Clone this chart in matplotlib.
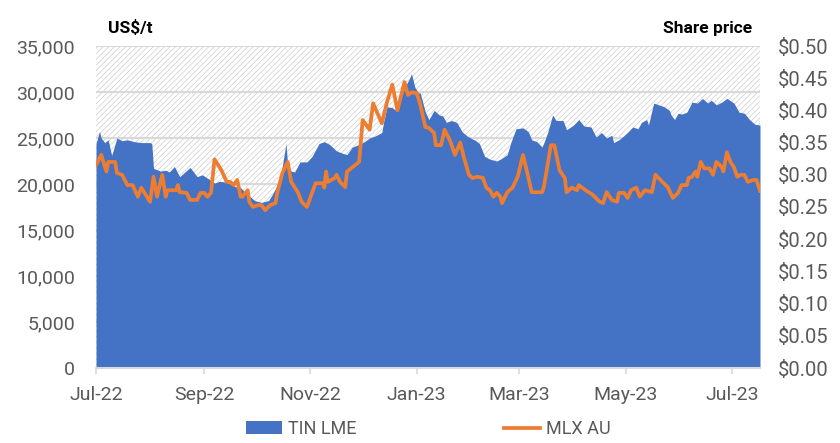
import pandas as pd
import matplotlib
matplotlib.use('Agg')
import matplotlib.pyplot as plt
import matplotlib.dates as mdates
from matplotlib.patches import Rectangle
from matplotlib.lines import Line2D
from matplotlib.ticker import FuncFormatter

plt.rcParams['font.family'] = ['Roboto', 'DejaVu Sans']

start = pd.Timestamp('2022-07-01')

# TIN LME (US$/t), days after 1 Jul 2022
tin_days = [0, 2, 3, 5, 7, 9, 12, 15, 18, 22, 26, 31, 32, 33, 37, 40, 42, 45, 48, 51,
            54, 58, 61, 65, 68, 71, 74, 77, 80, 83, 85, 88, 91, 95, 99, 101, 103, 106, 107, 109,
            110, 112, 114, 117, 121, 124, 126, 128, 131, 134, 138, 142, 144, 147, 151, 154, 157, 160, 164, 165,
            167, 170, 172, 174, 176, 178, 180, 181, 183, 185, 186, 189, 191, 194, 197, 199, 201, 204, 207, 210,
            213, 215, 218, 220, 223, 226, 230, 233, 236, 238, 241, 245, 248, 250, 253, 256, 259, 262, 264, 268,
            270, 274, 277, 280, 284, 287, 290, 293, 296, 297, 300, 302, 305, 308, 311, 313, 316, 317, 320, 323,
            326, 329, 330, 332, 334, 336, 339, 342, 345, 348, 351, 353, 356, 359, 362, 366, 369, 372, 375, 378, 381]
tin_lme = [24400, 25700, 25000, 24500, 24800, 23100, 25000, 24700, 24800, 24600, 24500, 24500, 24400, 21700, 21400, 21500, 21300, 21900, 20800, 21300,
           21800, 20800, 21000, 20500, 20100, 20300, 20200, 20000, 19700, 19600, 19200, 18700, 18200, 18000, 18200, 18800, 19500, 21000, 22000, 24400,
           22000, 21400, 21300, 22400, 22400, 23000, 23700, 24400, 24600, 24300, 23600, 23300, 23200, 24000, 24300, 24600, 25000, 25200, 25600, 26700,
           28400, 28300, 28000, 28800, 29900, 30800, 31500, 32000, 30500, 29900, 29900, 27800, 27000, 28000, 27500, 27400, 26700, 26900, 26700, 25700,
           25200, 25000, 24700, 24400, 23000, 22700, 22500, 22800, 23200, 24500, 26000, 26100, 25700, 24800, 24600, 24000, 25500, 27500, 26900, 26900,
           25900, 26400, 27000, 26300, 26200, 25100, 25600, 25000, 25300, 24500, 24800, 25100, 25600, 26200, 26000, 26700, 27000, 26400, 28800, 28600,
           28400, 28000, 27500, 27000, 27700, 27600, 27800, 28900, 28800, 29300, 28800, 29100, 28600, 28900, 29300, 28800, 27800, 27700, 27000, 26500, 26400]

# MLX AU share price (A$), days after 1 Jul 2022
mlx_days = [0, 3, 6, 7, 11, 12, 15, 18, 21, 24, 26, 31, 33, 35, 38, 40, 41, 46, 47, 48,
            52, 54, 58, 60, 62, 64, 66, 68, 72, 75, 77, 79, 81, 83, 84, 87, 88, 90, 93, 95,
            97, 100, 103, 104, 107, 110, 112, 116, 118, 121, 124, 126, 130, 131, 132, 133, 137, 138, 140, 143,
            144, 151, 153, 157, 159, 164, 167, 170, 173, 177, 179, 181, 184, 186, 189, 191, 194, 195, 198, 200,
            203, 206, 209, 211, 214, 216, 219, 222, 224, 226, 228, 230, 232, 233, 236, 239, 242, 245, 248, 250,
            256, 257, 261, 263, 266, 269, 270, 273, 276, 277, 281, 285, 289, 291, 293, 296, 299, 300, 303, 305,
            307, 310, 312, 315, 319, 321, 325, 328, 331, 334, 336, 339, 340, 342, 344, 345, 347, 349, 352, 354,
            356, 359, 360, 362, 364, 366, 368, 370, 372, 374, 377, 379, 381]
mlx_au = [0.315, 0.331, 0.305, 0.320, 0.320, 0.303, 0.300, 0.284, 0.284, 0.266, 0.280, 0.258, 0.297, 0.266, 0.300, 0.266, 0.276, 0.276, 0.284, 0.273,
          0.272, 0.261, 0.261, 0.272, 0.272, 0.266, 0.272, 0.324, 0.307, 0.289, 0.289, 0.284, 0.292, 0.266, 0.266, 0.276, 0.258, 0.250, 0.253, 0.253,
          0.245, 0.253, 0.256, 0.272, 0.303, 0.320, 0.289, 0.272, 0.258, 0.250, 0.272, 0.287, 0.287, 0.280, 0.305, 0.289, 0.295, 0.300, 0.289, 0.281,
          0.305, 0.320, 0.385, 0.370, 0.411, 0.380, 0.413, 0.440, 0.400, 0.444, 0.424, 0.428, 0.427, 0.410, 0.374, 0.373, 0.365, 0.346, 0.346, 0.370,
          0.354, 0.331, 0.350, 0.328, 0.300, 0.295, 0.297, 0.295, 0.280, 0.276, 0.266, 0.272, 0.266, 0.256, 0.273, 0.280, 0.297, 0.331, 0.297, 0.273,
          0.273, 0.281, 0.346, 0.346, 0.307, 0.295, 0.273, 0.280, 0.276, 0.284, 0.276, 0.269, 0.258, 0.256, 0.273, 0.261, 0.258, 0.272, 0.272, 0.264,
          0.276, 0.280, 0.266, 0.276, 0.273, 0.300, 0.289, 0.281, 0.264, 0.272, 0.284, 0.284, 0.295, 0.297, 0.305, 0.297, 0.320, 0.310, 0.310, 0.300,
          0.320, 0.312, 0.305, 0.335, 0.320, 0.312, 0.297, 0.300, 0.300, 0.289, 0.292, 0.292, 0.275]

tin_dates = start + pd.to_timedelta(tin_days, unit='D')
mlx_dates = start + pd.to_timedelta(mlx_days, unit='D')

blue = '#4472C4'
orange = '#ED7D31'
grey_txt = '#595959'
grid_col = '#D9D9D9'

fig = plt.figure(figsize=(8.4, 4.43), dpi=100)
ax = fig.add_axes([96 / 840, 1 - 368 / 443, 664 / 840, 322 / 443])
ax2 = ax.twinx()

x0 = start
x1 = start + pd.Timedelta(days=381)

# hatched background
plt.rcParams['hatch.color'] = '#C8C8C8'
plt.rcParams['hatch.linewidth'] = 0.45
ax.add_patch(Rectangle((0, 0), 1, 1, transform=ax.transAxes, facecolor='white',
                       edgecolor='#C8C8C8', hatch='//////', linewidth=0, zorder=0))

for v in range(5000, 35001, 5000):
    ax.axhline(v, color=grid_col, lw=1.5, zorder=1)

ax.fill_between(tin_dates, tin_lme, 0, color=blue, lw=0, zorder=2)
ax.set_xlim(x0, x1)
ax.set_ylim(0, 35000)
ax.set_yticks(range(0, 35001, 5000))
ax.yaxis.set_major_formatter(FuncFormatter(lambda v, p: f'{int(v):,}'))

ax2.plot(mlx_dates, mlx_au, color=orange, lw=2.7, solid_joinstyle='round', zorder=3)
ax2.set_ylim(0, 0.5)
ax2.set_yticks([i * 0.05 for i in range(11)])
ax2.yaxis.set_major_formatter(FuncFormatter(lambda v, p: f'${v:.2f}'))
ax2.set_xlim(x0, x1)

ticks = pd.date_range('2022-07-01', '2023-07-01', freq='2MS')
ax.set_xticks(ticks)
ax.xaxis.set_major_formatter(mdates.DateFormatter('%b-%y'))

for a in (ax, ax2):
    for s in a.spines.values():
        s.set_visible(False)
ax.spines['bottom'].set_visible(True)
ax.spines['bottom'].set_color(grid_col)
ax.spines['bottom'].set_linewidth(1.5)
ax.spines['bottom'].set_zorder(5)

ax.tick_params(axis='x', length=4, width=1.2, color=grid_col, pad=9,
               labelsize=14, labelcolor=grey_txt)
ax.tick_params(axis='y', length=0, pad=15, labelsize=14, labelcolor=grey_txt)
ax2.tick_params(axis='y', length=0, pad=13, labelsize=14.5, labelcolor=grey_txt)

fig.text(108 / 840, 1 - 28 / 443, 'US$/t', fontsize=12.5, fontweight='bold',
         ha='left', va='center', color='black')
fig.text(752 / 840, 1 - 28 / 443, 'Share price', fontsize=12.5, fontweight='bold',
         ha='right', va='center', color='black')

handles = [Rectangle((0, 0), 1, 1, facecolor=blue),
           Line2D([0], [0], color=orange, lw=2.7)]
fig.legend(handles, ['TIN LME', 'MLX AU'], loc='center', bbox_to_anchor=(0.51, 1 - 429 / 443),
           ncol=2, frameon=False, fontsize=13, labelcolor=grey_txt, handlelength=2.0,
           handleheight=0.7, handletextpad=0.3, columnspacing=8.2)

fig.savefig('out.png', dpi=100)
